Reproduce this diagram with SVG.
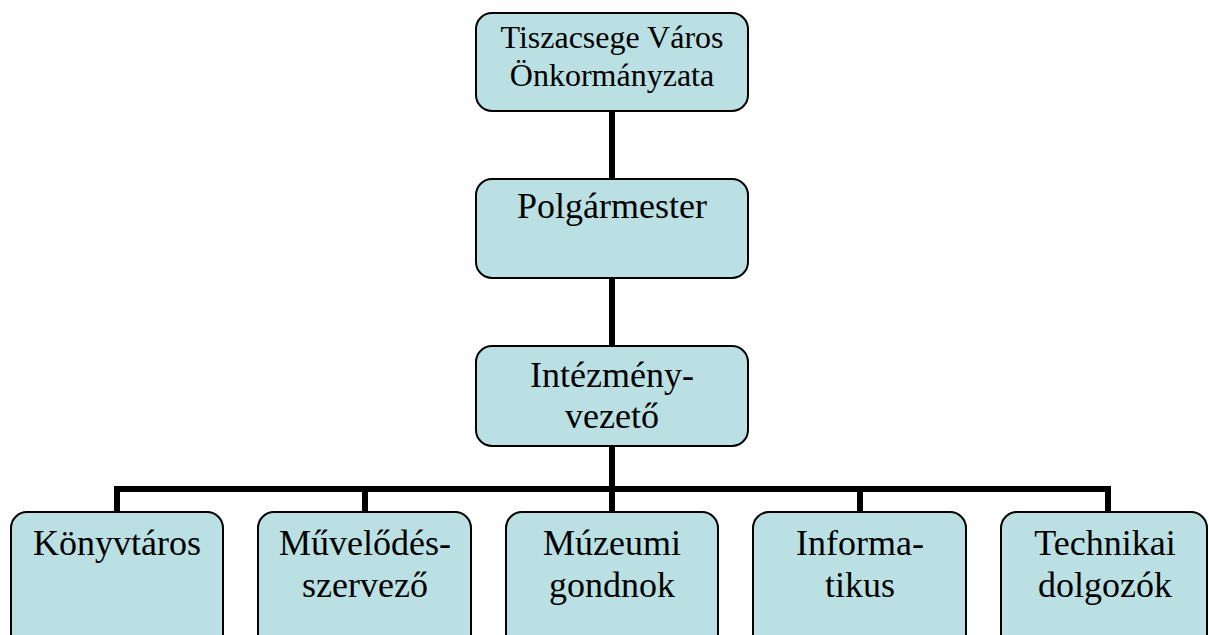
<svg xmlns="http://www.w3.org/2000/svg" width="1209" height="635" viewBox="0 0 1209 635">
<style>
.box{fill:#BAE0E3;stroke:#000;stroke-width:2}
.t{font-family:"Liberation Serif","Times New Roman",serif;font-size:36px;fill:#000;text-anchor:middle}
.ts{font-size:32px}
.c{stroke:#000;stroke-width:6;fill:none}
</style>
<rect width="1209" height="635" fill="#fff"/>
<g id="connectors">
<path class="c" d="M612 111V179M612 278V346M612 446V512"/>
<path class="c" d="M117 489H1108M117 486V512M365 486V512M860 486V512M1108 486V512"/>
</g>
<g id="n-onkormanyzat">
<rect class="box" x="476" y="13" width="272" height="98" rx="16"/>
<text class="t ts" x="612" y="48">Tiszacsege Város</text>
<text class="t ts" x="612" y="86">Önkormányzata</text>
</g>
<g id="n-polgarmester">
<rect class="box" x="476" y="179" width="272" height="99" rx="16"/>
<text class="t" x="612" y="218">Polgármester</text>
</g>
<g id="n-intezmenyvezeto">
<rect class="box" x="476" y="346" width="272" height="100" rx="16"/>
<text class="t" x="612" y="387">Intézmény-</text>
<text class="t" x="612" y="428">vezető</text>
</g>
<g id="n-konyvtaros">
<rect class="box" x="11" y="512" width="212" height="140" rx="16"/>
<text class="t" x="117" y="555">Könyvtáros</text>
</g>
<g id="n-muvelodes">
<rect class="box" x="258" y="512" width="213" height="140" rx="16"/>
<text class="t" x="365" y="555">Művelődés-</text>
<text class="t" x="365" y="597">szervező</text>
</g>
<g id="n-muzeumi">
<rect class="box" x="506" y="512" width="212" height="140" rx="16"/>
<text class="t" x="612" y="555">Múzeumi</text>
<text class="t" x="612" y="597">gondnok</text>
</g>
<g id="n-informatikus">
<rect class="box" x="753" y="512" width="213" height="140" rx="16"/>
<text class="t" x="860" y="555">Informa-</text>
<text class="t" x="860" y="597">tikus</text>
</g>
<g id="n-technikai">
<rect class="box" x="1001" y="512" width="206" height="140" rx="16"/>
<text class="t" x="1105" y="555">Technikai</text>
<text class="t" x="1105" y="597">dolgozók</text>
</g>
</svg>
